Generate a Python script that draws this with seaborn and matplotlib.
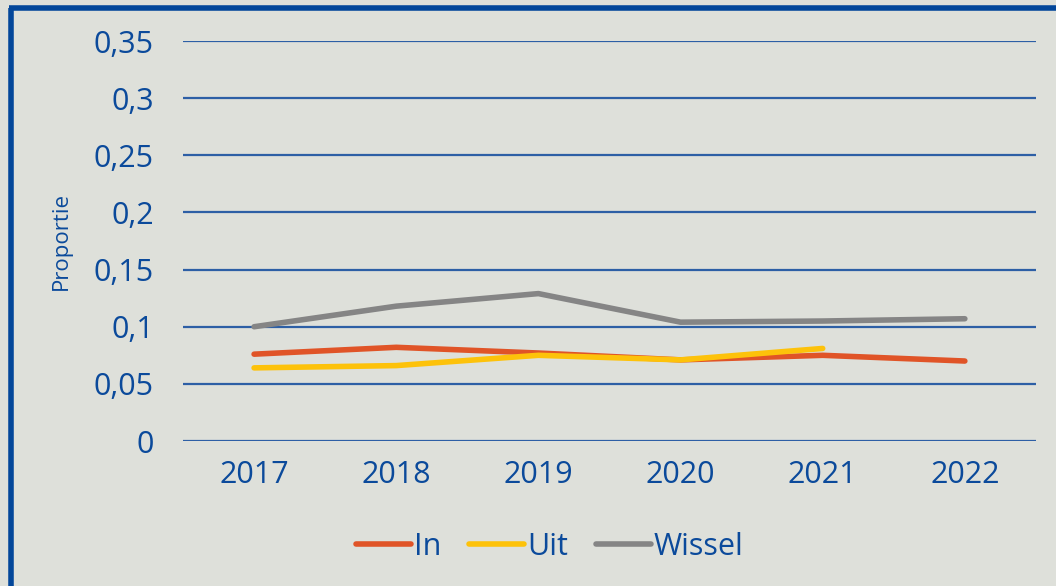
import numpy as np
import pandas as pd
import matplotlib.pyplot as plt
import seaborn as sns
from matplotlib.ticker import FuncFormatter, MultipleLocator
from matplotlib.lines import Line2D

years = ["2017", "2018", "2019", "2020", "2021", "2022"]
in_vals = [0.076, 0.082, 0.077, 0.071, 0.075, 0.070]
uit_vals = [0.064, 0.066, 0.075, 0.071, 0.081, np.nan]
wissel_vals = [0.100, 0.118, 0.129, 0.104, 0.105, 0.107]

df = pd.DataFrame({"Jaar": years * 3,
                   "Proportie": in_vals + uit_vals + wissel_vals,
                   "Groep": ["In"] * 6 + ["Uit"] * 6 + ["Wissel"] * 6})

blue = "#0b4a9b"
bg = "#dee0da"
palette = {"In": "#e05427", "Uit": "#fdc20a", "Wissel": "#858585"}

sns.set_style("white")
plt.rcParams["font.family"] = ["Open Sans", "DejaVu Sans"]

fig = plt.figure(figsize=(10.56, 5.86), dpi=100, facecolor=bg)
ax = fig.add_axes([0.1733, 0.2474, 0.8077, 0.6826])
ax.set_facecolor(bg)

sns.lineplot(data=df, x="Jaar", y="Proportie", hue="Groep", palette=palette,
             linewidth=4, ax=ax, solid_capstyle="round", sort=False)

ax.set_xlim(-0.5, 5.5)
ax.set_ylim(0, 0.35)
ax.yaxis.set_major_locator(MultipleLocator(0.05))
ax.yaxis.set_major_formatter(FuncFormatter(lambda v, p: ("%g" % round(v, 2)).replace(".", ",")))
ax.grid(axis="y", color="#2d5fa5", linewidth=1.6)
ax.set_axisbelow(True)
for s in ax.spines.values():
    s.set_visible(False)
ax.tick_params(axis="both", length=0, labelsize=22, labelcolor=blue)
ax.tick_params(axis="y", pad=21)
ax.tick_params(axis="x", pad=14)
ax.set_xlabel("")
ax.set_ylabel("Proportie", fontsize=16, color=blue)
ax.yaxis.set_label_coords(-0.13, 0.5)

h, l = ax.get_legend_handles_labels()
ax.legend(h, l, loc="center", bbox_to_anchor=(0.43, -0.265), ncol=3, frameon=False,
          fontsize=22, labelcolor=blue, handlelength=1.8, handletextpad=0.1, columnspacing=0.9)

fig.add_artist(Line2D([0.0104, 0.0104], [0, 0.986], color="#03479a", linewidth=4,
                      transform=fig.transFigure, solid_capstyle="butt"))
fig.add_artist(Line2D([0.0085, 1.0], [0.9863, 0.9863], color="#03479a", linewidth=4,
                      transform=fig.transFigure, solid_capstyle="butt"))

fig.savefig("out.png", dpi=100, facecolor=bg)
